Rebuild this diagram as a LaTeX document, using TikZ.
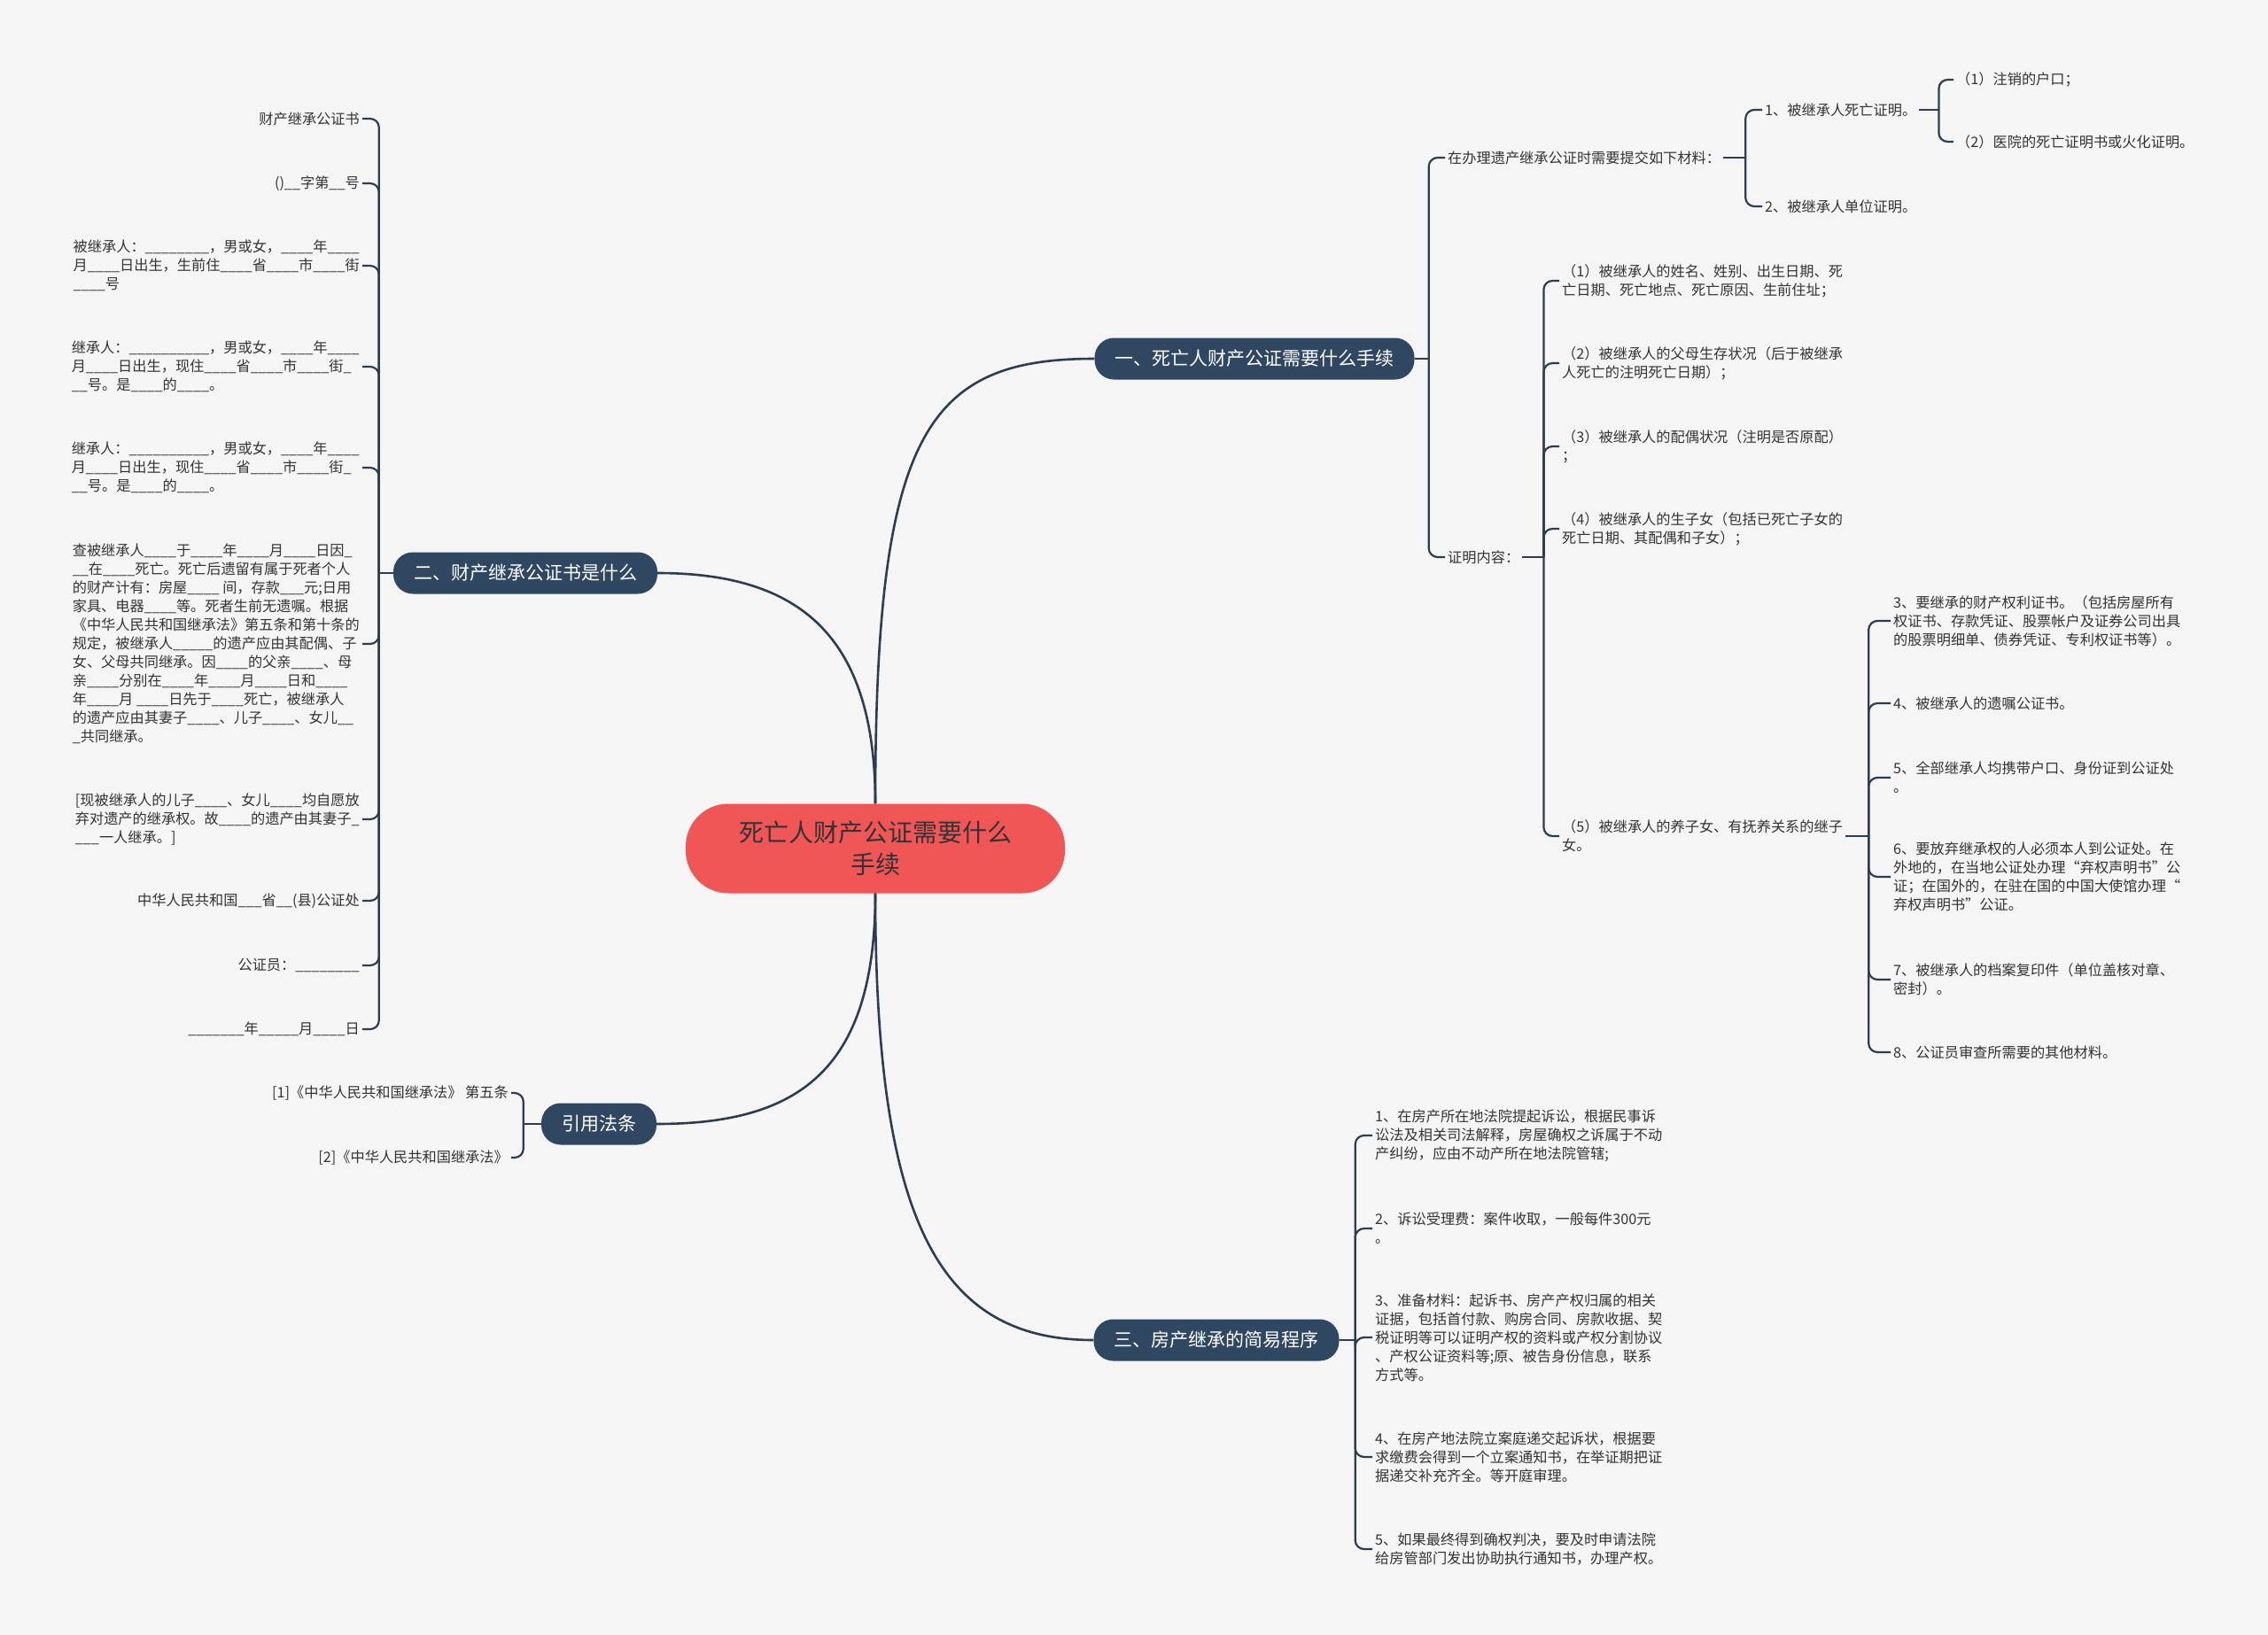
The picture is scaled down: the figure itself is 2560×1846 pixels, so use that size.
\documentclass[tikz,border=0pt]{standalone}
\usepackage{fontspec}
\setmainfont{Noto Sans CJK SC}
\usetikzlibrary{positioning, calc}

\definecolor{bgcol}{HTML}{F5F5F5}
\definecolor{linecol}{HTML}{2B3D4F}
\definecolor{topiccol}{HTML}{2F4760}
\definecolor{rootcol}{HTML}{F05656}
\definecolor{txtcol}{HTML}{333333}

\begin{document}
\begin{tikzpicture}[
    x=1pt, y=-1pt,
    root/.style={
        rounded corners=48pt, fill=rootcol, text=txtcol, align=center,
        minimum width=428pt, minimum height=101pt,
        font=\fontsize{28}{36}\selectfont
    },
    topic/.style={
        rounded corners=22pt, fill=topiccol, text=white,
        inner xsep=23pt, minimum height=47pt,
        font=\fontsize{21}{26}\selectfont
    },
    leaf/.style={text=txtcol, inner sep=3pt, align=left, font=\fontsize{16.2}{21}\selectfont},
    branch/.style={draw=linecol, line width=2.6pt},
    twig/.style={draw=linecol, line width=2.2pt, rounded corners=10pt}
]

\useasboundingbox (0,0) rectangle (2560,1846);
\fill[bgcol] (0,0) rectangle (2560,1846);

% --- Tema central ---
\node[root] (root) at (988,958) {死亡人财产公证需要什么\\手续};

% --- Temas principales ---
\node[topic] (b1) at (1416,405) {一、死亡人财产公证需要什么手续};
\node[topic] (b2) at (593,647) {二、财产继承公证书是什么};
\node[topic] (b3) at (1373,1513) {三、房产继承的简易程序};
\node[topic] (b4) at (676,1269) {引用法条};

\draw[branch] (root.north) .. controls (988,490) and (1045,405) .. (b1.west);
\draw[branch] (root.north) .. controls (988,720) and (905,647) .. (b2.east);
\draw[branch] (root.south) .. controls (988,1210) and (900,1269) .. (b4.east);
\draw[branch] (root.south) .. controls (988,1380) and (1060,1513) .. (b3.west);

% --- Rama uno ---
\node[leaf, anchor=west] (a1) at (1631,178) {在办理遗产继承公证时需要提交如下材料：};
\node[leaf, anchor=west] (a2) at (1631,629) {证明内容：};

\node[leaf, anchor=west] (a11) at (1989,124) {1、被继承人死亡证明。};
\node[leaf, anchor=west] (a12) at (1989,233) {2、被继承人单位证明。};
\node[leaf, anchor=west] (a111) at (2205,90) {（1）注销的户口；};
\node[leaf, anchor=west] (a112) at (2205,160) {（2）医院的死亡证明书或火化证明。};

\node[leaf, anchor=west] (a21) at (1760,317) {（1）被继承人的姓名、姓别、出生日期、死\\亡日期、死亡地点、死亡原因、生前住址；};
\node[leaf, anchor=west] (a22) at (1760,410) {（2）被继承人的父母生存状况（后于被继承\\人死亡的注明死亡日期）；};
\node[leaf, anchor=west] (a23) at (1760,504) {（3）被继承人的配偶状况（注明是否原配）\\；};
\node[leaf, anchor=west] (a24) at (1760,597) {（4）被继承人的生子女（包括已死亡子女的\\死亡日期、其配偶和子女）；};
\node[leaf, anchor=west] (a25) at (1760,944) {（5）被继承人的养子女、有抚养关系的继子\\女。};

\node[leaf, anchor=west] (a251) at (2134,701) {3、要继承的财产权利证书。（包括房屋所有\\权证书、存款凭证、股票帐户及证券公司出具\\的股票明细单、债券凭证、专利权证书等）。};
\node[leaf, anchor=west] (a252) at (2134,794) {4、被继承人的遗嘱公证书。};
\node[leaf, anchor=west] (a253) at (2134,878) {5、全部继承人均携带户口、身份证到公证处\\。};
\node[leaf, anchor=west] (a254) at (2134,990) {6、要放弃继承权的人必须本人到公证处。在\\外地的，在当地公证处办理“弃权声明书”公\\证；在国外的，在驻在国的中国大使馆办理“\\弃权声明书”公证。};
\node[leaf, anchor=west] (a255) at (2134,1106) {7、被继承人的档案复印件（单位盖核对章、\\密封）。};
\node[leaf, anchor=west] (a256) at (2134,1188) {8、公证员审查所需要的其他材料。};

\coordinate (j1) at ($(b1.east)+(16,0)$);
\draw[twig] (b1.east) -- (j1);
\draw[twig] (j1) |- (a1.west);
\draw[twig] (j1) |- (a2.west);

\coordinate (j1a) at ($(a1.east)+(25,0)$);
\draw[twig] (a1.east) -- (j1a);
\draw[twig] (j1a) |- (a11.west);
\draw[twig] (j1a) |- (a12.west);

\coordinate (j11) at ($(a11.east)+(22,0)$);
\draw[twig] (a11.east) -- (j11);
\draw[twig] (j11) |- (a111.west);
\draw[twig] (j11) |- (a112.west);

\coordinate (j2a) at ($(a2.east)+(24,0)$);
\draw[twig] (a2.east) -- (j2a);
\draw[twig] (j2a) |- (a21.west);
\draw[twig] (j2a) |- (a22.west);
\draw[twig] (j2a) |- (a23.west);
\draw[twig] (j2a) |- (a24.west);
\draw[twig] (j2a) |- (a25.west);

\coordinate (j25) at ($(a25.east)+(26,0)$);
\draw[twig] (a25.east) -- (j25);
\draw[twig] (j25) |- (a251.west);
\draw[twig] (j25) |- (a252.west);
\draw[twig] (j25) |- (a253.west);
\draw[twig] (j25) |- (a254.west);
\draw[twig] (j25) |- (a255.west);
\draw[twig] (j25) |- (a256.west);

% --- Rama dos ---
\node[leaf, anchor=east] (l1) at (409,134) {财产继承公证书};
\node[leaf, anchor=east] (l2) at (409,207) {()\_\_字第\_\_号};
\node[leaf, anchor=east] (l3) at (409,300) {被继承人：\_\_\_\_\_\_\_\_，男或女，\_\_\_\_年\_\_\_\_\\月\_\_\_\_日出生，生前住\_\_\_\_省\_\_\_\_市\_\_\_\_街\\\_\_\_\_号};
\node[leaf, anchor=east] (l4) at (409,414) {继承人：\_\_\_\_\_\_\_\_\_\_，男或女，\_\_\_\_年\_\_\_\_\\月\_\_\_\_日出生，现住\_\_\_\_省\_\_\_\_市\_\_\_\_街\_\\\_\_号。是\_\_\_\_的\_\_\_\_。};
\node[leaf, anchor=east] (l5) at (409,528) {继承人：\_\_\_\_\_\_\_\_\_\_，男或女，\_\_\_\_年\_\_\_\_\\月\_\_\_\_日出生，现住\_\_\_\_省\_\_\_\_市\_\_\_\_街\_\\\_\_号。是\_\_\_\_的\_\_\_\_。};
\node[leaf, anchor=east] (l6) at (409,727) {查被继承人\_\_\_\_于\_\_\_\_年\_\_\_\_月\_\_\_\_日因\_\\
\_\_在\_\_\_\_死亡。死亡后遗留有属于死者个人\\
的财产计有：房屋\_\_\_\_ 间，存款\_\_\_元;日用\\
家具、电器\_\_\_\_等。死者生前无遗嘱。根据\\
《中华人民共和国继承法》第五条和第十条的\\
规定，被继承人\_\_\_\_\_的遗产应由其配偶、子\\
女、父母共同继承。因\_\_\_\_的父亲\_\_\_\_、母\\
亲\_\_\_\_分别在\_\_\_\_年\_\_\_\_月\_\_\_\_日和\_\_\_\_\\
年\_\_\_\_月 \_\_\_\_日先于\_\_\_\_死亡，被继承人\\
的遗产应由其妻子\_\_\_\_、儿子\_\_\_\_、女儿\_\_\\
\_共同继承。};
\node[leaf, anchor=east] (l7) at (409,925) {[现被继承人的儿子\_\_\_\_、女儿\_\_\_\_均自愿放\\弃对遗产的继承权。故\_\_\_\_的遗产由其妻子\_\\\_\_\_一人继承。]};
\node[leaf, anchor=east] (l8) at (409,1017) {中华人民共和国\_\_\_省\_\_(县)公证处};
\node[leaf, anchor=east] (l9) at (409,1090) {公证员：\_\_\_\_\_\_\_\_};
\node[leaf, anchor=east] (l10) at (409,1162) {\_\_\_\_\_\_\_年\_\_\_\_\_月\_\_\_\_日};

\coordinate (j2) at ($(b2.west)+(-16,0)$);
\draw[twig] (b2.west) -- (j2);
\draw[twig] (j2) |- (l1.east);
\draw[twig] (j2) |- (l2.east);
\draw[twig] (j2) |- (l3.east);
\draw[twig] (j2) |- (l4.east);
\draw[twig] (j2) |- (l5.east);
\draw[twig] (j2) |- (l6.east);
\draw[twig] (j2) |- (l7.east);
\draw[twig] (j2) |- (l8.east);
\draw[twig] (j2) |- (l9.east);
\draw[twig] (j2) |- (l10.east);

% --- Rama tres ---
\node[leaf, anchor=west] (c1) at (1549,1282) {1、在房产所在地法院提起诉讼，根据民事诉\\讼法及相关司法解释，房屋确权之诉属于不动\\产纠纷，应由不动产所在地法院管辖;};
\node[leaf, anchor=west] (c2) at (1549,1387) {2、诉讼受理费：案件收取，一般每件300元\\。};
\node[leaf, anchor=west] (c3) at (1549,1510) {3、准备材料：起诉书、房产产权归属的相关\\证据，包括首付款、购房合同、房款收据、契\\税证明等可以证明产权的资料或产权分割协议\\、产权公证资料等;原、被告身份信息，联系\\方式等。};
\node[leaf, anchor=west] (c4) at (1549,1645) {4、在房产地法院立案庭递交起诉状，根据要\\求缴费会得到一个立案通知书，在举证期把证\\据递交补充齐全。等开庭审理。};
\node[leaf, anchor=west] (c5) at (1549,1749) {5、如果最终得到确权判决，要及时申请法院\\给房管部门发出协助执行通知书，办理产权。};

\coordinate (j3) at ($(b3.east)+(18,0)$);
\draw[twig] (b3.east) -- (j3);
\draw[twig] (j3) |- (c1.west);
\draw[twig] (j3) |- (c2.west);
\draw[twig] (j3) |- (c3.west);
\draw[twig] (j3) |- (c4.west);
\draw[twig] (j3) |- (c5.west);

% --- Referencias ---
\node[leaf, anchor=east] (r1) at (577,1234) {[1]《中华人民共和国继承法》 第五条};
\node[leaf, anchor=east] (r2) at (577,1307) {[2]《中华人民共和国继承法》};

\coordinate (j4) at ($(b4.west)+(-20,0)$);
\draw[twig] (b4.west) -- (j4);
\draw[twig] (j4) |- (r1.east);
\draw[twig] (j4) |- (r2.east);

\end{tikzpicture}
\end{document}
